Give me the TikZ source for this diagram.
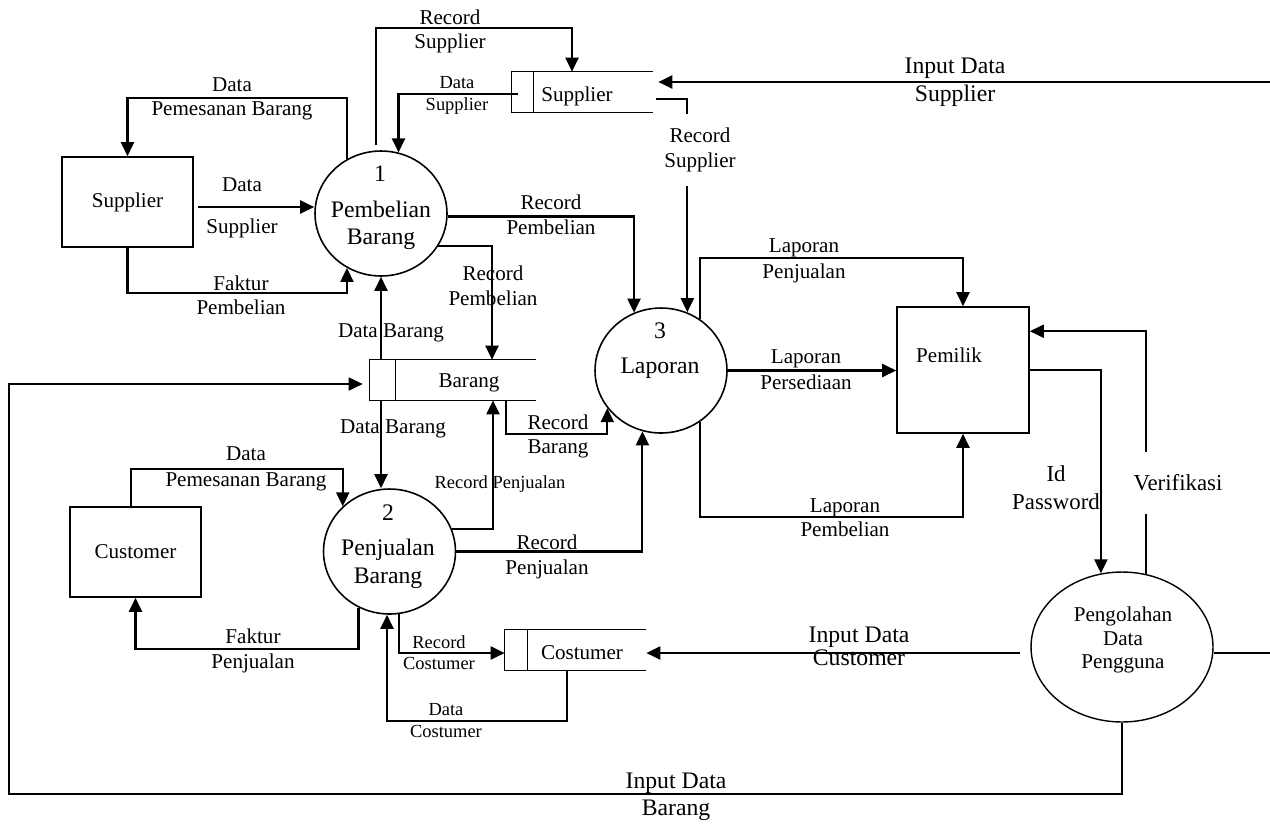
\documentclass[tikz,border=0pt]{standalone}
\usepackage{fontspec}
\setmainfont{Liberation Serif}
\usetikzlibrary{arrows.meta,shapes.geometric,calc}
\begin{document}
\begin{tikzpicture}[x=0.02cm,y=-0.02cm,
  flow/.style={draw, line width=1.2pt, -{Triangle[length=0.28cm,width=0.26cm]}},
  plain/.style={draw, line width=1.2pt},
  thin/.style={draw, line width=0.8pt},
  ent/.style={draw, rectangle, line width=0.9pt, minimum width=2.62cm, minimum height=1.8cm, inner sep=0pt, font=\fontsize{12}{13.6}\selectfont},
  proc/.style={draw, ellipse, line width=0.9pt, minimum width=2.64cm, minimum height=2.5cm, inner sep=0pt},
  store/.style={rectangle, minimum height=0.8cm, inner sep=0pt},
  storeline/.style={draw, line width=0.9pt},
  lbl/.style={font=\fontsize{12}{13.6}\selectfont, align=center, inner sep=0pt},
  slbl/.style={font=\fontsize{10.5}{12.5}\selectfont, align=center, inner sep=0pt},
  blbl/.style={font=\fontsize{13.5}{15.8}\selectfont, align=center, inner sep=0pt},
  mlbl/.style={font=\fontsize{13}{15.9}\selectfont, align=center, inner sep=0pt},
]
\useasboundingbox (0,0) rectangle (1270,826);

% ---------- external entities ----------
\node[ent] (sup) at (127.5,202) {Supplier};
\node[ent] (cus) at (135.5,552) {Customer};
\node[draw, rectangle, line width=0.9pt, minimum width=2.64cm, minimum height=2.52cm, inner sep=0pt] (pem) at (963,370) {};
\node[lbl] (pemtxt) at (949,355) {Pemilik};

% ---------- processes ----------
\node[proc] (p1) at (381,213.5) {};
\node[blbl] (p1no) at (380,174) {1};
\node[blbl] (p1txt) at (381,225) {Pembelian\\[-0.5pt]Barang};

\node[proc] (p2) at (389.5,551.5) {};
\node[blbl] (p2no) at (388,513) {2};
\node[blbl] (p2txt) at (388,564) {Penjualan\\Barang};

\node[proc] (p3) at (661,370.5) {};
\node[blbl] (p3no) at (660,331) {3};
\node[blbl] (p3txt) at (660,368) {Laporan};

\node[draw, ellipse, line width=0.8pt, minimum width=3.64cm, minimum height=3cm, inner sep=0pt] (png) at (1122,647) {};
\node[lbl] (pngtxt) at (1123,640) {Pengolahan\\Data\\Pengguna};

% ---------- data stores ----------
\node[store, minimum width=2.82cm] (sst) at (582.5,92) {};
\draw[storeline] (sst.north east) -- (sst.north west) -- (sst.south west) -- (sst.south east);
\draw[storeline] ($(sst.north west)+(22,0)$) -- ($(sst.south west)+(22,0)$);
\node[lbl] (ssttxt) at (577,96) {Supplier};

\node[store, minimum width=3.32cm] (bar) at (453,380) {};
\draw[storeline] (bar.north east) -- (bar.north west) -- (bar.south west) -- (bar.south east);
\draw[storeline] ($(bar.north west)+(26,0)$) -- ($(bar.south west)+(26,0)$);
\node[lbl] (bartxt) at (469,383) {Barang};

\node[store, minimum width=2.82cm] (cst) at (575.5,650) {};
\draw[storeline] (cst.north east) -- (cst.north west) -- (cst.south west) -- (cst.south east);
\draw[storeline] ($(cst.north west)+(23,0)$) -- ($(cst.south west)+(23,0)$);
\node[lbl] (csttxt) at (582,653) {Costumer};

% ---------- bend points and free ends ----------
\coordinate (ds1) at ($(sup.east)+(4,5)$);
\coordinate (fp) at ($(sup.south)+(0,45)$);
\coordinate (rs1) at ($(sst.north)+(-10.5,0)$);
\coordinate (rsA) at ($(sst.east)+(3,7)$);
\coordinate (rsB) at ($(rsA)+(31,15)$);
\coordinate (rsC) at ($(rsB)+(0,72)$);
\coordinate (rb) at ($(bar.south)+(53,0)$);
\coordinate (dpc) at ($(cus.north)+(0,-37)$);
\coordinate (dc) at ($(cst.south)+(-8.5,51)$);
\coordinate (ibL) at ($(bar.west)+(-361,414)$);
\coordinate (eR1) at (1270,82);
\coordinate (eR2) at (1270,653);

% ---------- flows around Pembelian Barang ----------
\draw[flow] (p1.122) |- ($(sup.north)+(0,-58)$) -- (sup.north);
\draw[flow] (ds1) -- (ds1 -| p1.west);
\draw[flow] (sup.south) -- (fp) -| (p1.238);
\draw[flow] ($(p1.north)+(-5,-5)$) |- ($(rs1)+(0,-44)$) -- (rs1);
\draw[flow] ($(sst.west)+(6,2)$) -| (p1.74);
\draw[flow] (eR1) -- ($(sst.east)+(5,-10)$);
\draw[plain] (rsA) -| (rsB);
\draw[flow] (rsC) -- (rsC |- p3.66);
\draw[flow] ($(p1.east)+(0,3)$) -| (p3.115);
\draw[flow] (p1.330) -| ($(bar.north)+(39,0)$);
\draw[flow] (p1.south |- bar.north) -- (p1.south);

% ---------- flows around Barang and Penjualan Barang ----------
\draw[flow] (p1.south |- bar.south) -- (p1.south |- p2.north);
\draw[flow] (rb) -- ++(0,34) -| (p3.215);
\draw[flow] (p2.20) -| ($(bar.south)+(40,0)$);
\draw[flow] (p2.east) -| (p3.253);
\draw[flow] ($(cus.north)+(-4.5,0)$) |- (dpc -| p2.136) -- (p2.136);
\draw[flow] (p2.241) |- ($(cus.south)+(0,51)$) -- (cus.south);
\draw[flow] (p2.279) |- ($(cst.west)+(0,3)$);
\draw[flow] ($(cst.south)+(-8.5,0)$) -- (dc) -| ($(p2.south)+(-2.5,0)$);

% ---------- flows around Pengolahan Data Pengguna ----------
\draw[flow] ($(png.west)+(-10,6)$) -- ($(cst.east)+(0,3)$);
\draw[thin] ($(png.east)+(0,6)$) -- (eR2);
\draw[flow, line width=1pt] (png.south) |- (ibL) |- ($(bar.west)+(-7,4)$);
\draw[flow] (pem.east) -| (png.106);
\draw[flow, line width=1pt] (png.72) |- ($(pem.north east)+(0,25)$);

% ---------- flows around Laporan ----------
\draw[flow] (p3.53) |- ($(pem.north)+(0,-48)$) -- (pem.north);
\draw[flow] (p3.east) -- (p3.east -| pem.west);
\draw[flow] (p3.307) |- ($(pem.south)+(0,83)$) -- (pem.south);

% ---------- flow labels ----------
\node[lbl] (l1) at (232,99) {Data\\Pemesanan Barang};
\node[lbl] (l2) at (242,208) {Data\\[10.2pt]Supplier};
\node[lbl] (l3) at (241,295) {Faktur\\Pembelian};
\node[lbl] (l4) at (450,31) {Record\\Supplier};
\node[slbl] (l5) at (457,95) {Data\\Supplier};
\node[blbl] (l7) at (955,82) {Input Data\\Supplier};
\node[lbl] (l8) at (700,149.5) {Record\\[0.6pt]Supplier};
\node[lbl] (l9) at (551,214.5) {Record\\[0.6pt]Pembelian};
\node[lbl] (l10) at (493,285.5) {Record\\[0.6pt]Pembelian};
\node[lbl] (l11) at (391,333) {Data Barang};
\node[lbl] (l13) at (393,429) {Data Barang};
\node[lbl] (l14) at (558,436) {Record\\Barang};
\node[slbl] (l15) at (500,484) {Record Penjualan};
\node[lbl] (l16) at (547,556.5) {Record\\[0.6pt]Penjualan};
\node[lbl] (l17) at (246,469) {Data\\[1.1pt]Pemesanan Barang};
\node[lbl] (l19) at (253,650.5) {Faktur\\[0.6pt]Penjualan};
\node[slbl] (l20) at (439,652.5) {Record\\[-0.6pt]Costumer};
\node[slbl] (l22) at (446,721) {Data\\Costumer};
\node[blbl] (l23) at (859,646.5) {Input Data\\[-2.8pt]Customer};
\node[blbl] (l24) at (676,796.5) {Input Data\\[-0.5pt]Barang};
\node[lbl] (l25) at (804,261) {Laporan\\[1.1pt]Penjualan};
\node[lbl] (l26) at (806,370) {Laporan\\[1.1pt]Persediaan};
\node[lbl] (l27) at (845,518) {Laporan\\Pembelian};
\node[mlbl] (l29) at (1056,488) {Id\\Password};
\node[mlbl, fill=white, inner ysep=0.45cm] (l30) at (1178,483) {Verifikasi};
\end{tikzpicture}
\end{document}
